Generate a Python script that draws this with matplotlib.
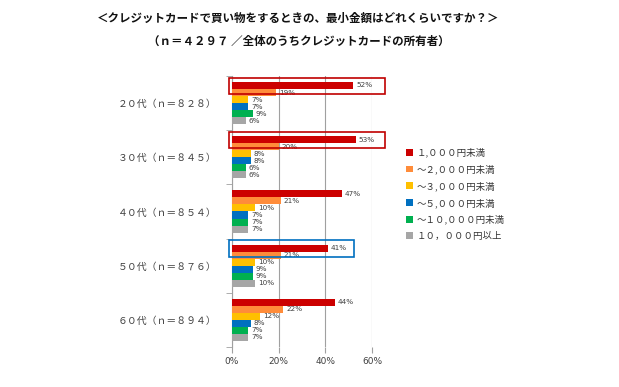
import matplotlib
matplotlib.use('Agg')
import numpy as np
from matplotlib import pyplot as plt
from matplotlib.patches import Rectangle

plt.rcParams['font.family'] = ['Noto Sans CJK JP', 'DejaVu Sans']

groups = ['２０代（ｎ＝８２８）', '３０代（ｎ＝８４５）', '４０代（ｎ＝８５４）',
          '５０代（ｎ＝８７６）', '６０代（ｎ＝８９４）']
series = ['１,０００円未満', '～２,０００円未満', '～３,０００円未満',
          '～５,０００円未満', '～１０,０００円未満', '１０，０００円以上']
colors = ['#CC0000', '#FF8C3A', '#FFC000', '#0070C0', '#00B050', '#A6A6A6']

v_lt1000 = [52, 53, 47, 41, 44]
v_lt2000 = [19, 20, 21, 21, 22]
v_lt3000 = [7, 8, 10, 10, 12]
v_lt5000 = [7, 8, 7, 9, 8]
v_lt10000 = [9, 6, 7, 9, 7]
v_ge10000 = [6, 6, 7, 10, 7]
values = [v_lt1000, v_lt2000, v_lt3000, v_lt5000, v_lt10000, v_ge10000]

# highlighted groups: (group index, colour, right edge in %)
highlights = [(0, '#C00000', 65.5), (1, '#C00000', 65.5), (3, '#0070C0', 52.3)]

fig = plt.figure(figsize=(6.19, 3.87), dpi=100)
ax = fig.add_axes([0.3748, 0.1034, 0.601 - 0.3748, 0.8036 - 0.1034])

h = 0.13
y0 = np.arange(len(groups))
for k, (name, vals, c) in enumerate(zip(series, values, colors)):
    ys = y0 - 0.39 + h * (k + 0.5)
    ax.barh(ys, vals, height=h, color=c, label=name, zorder=3)
    for y, v in zip(ys, vals):
        ax.text(v + 1.2, y, f'{v}%', va='center', ha='left', fontsize=5.2,
                color='#404040', family='DejaVu Sans', zorder=4)

for g, c, right in highlights:
    yc = g - 0.39 + h * 0.5
    ax.add_patch(Rectangle((-1.3, yc - 0.14), right + 1.3, 0.30, fill=False,
                           edgecolor=c, linewidth=1.2, clip_on=False, zorder=5))

ax.set_xlim(0, 60)
ax.set_ylim(len(groups) - 0.5, -0.5)
ax.set_xticks([0, 20, 40, 60])
ax.set_xticklabels(['0%', '20%', '40%', '60%'], fontsize=6.5, color='#404040',
                   family='DejaVu Sans')
ax.set_yticks(y0)
ax.set_yticklabels(groups, fontsize=7.1, color='#404040')
ax.set_yticks(np.arange(len(groups) + 1) - 0.5, minor=True)
ax.tick_params(axis='y', which='major', length=0, pad=11)
ax.tick_params(axis='y', which='minor', length=4, color='#A0A0A0')
ax.tick_params(axis='x', length=4, color='#A0A0A0')
ax.grid(axis='x', color='#A0A0A0', linewidth=0.8, zorder=0)
for s in ['top', 'right']:
    ax.spines[s].set_visible(False)
ax.spines['left'].set_color('#A0A0A0')
ax.spines['bottom'].set_visible(False)

fig.legend(loc='upper left', bbox_to_anchor=(0.642, 0.64), frameon=False,
           fontsize=6.8, handlelength=0.7, handleheight=0.7, handletextpad=0.4,
           labelspacing=0.75, labelcolor='#333333')

fig.text(0.482, 0.952, '＜クレジットカードで買い物をするときの、最小金額はどれくらいですか？＞',
         ha='center', va='center', fontsize=8.3, fontweight='bold', color='#111111')
fig.text(0.482, 0.892, '（ｎ＝４２９７ ／全体のうちクレジットカードの所有者）',
         ha='center', va='center', fontsize=8.3, fontweight='bold', color='#111111')

plt.savefig('out.png', dpi=100)
